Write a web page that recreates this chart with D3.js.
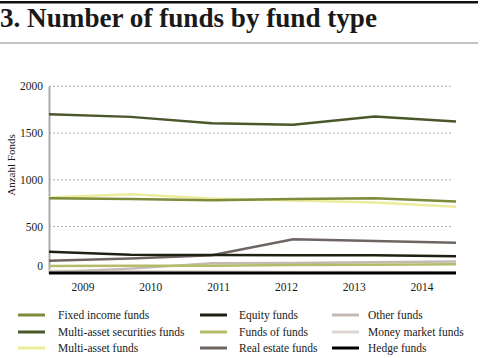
<!DOCTYPE html>
<html><head><meta charset="utf-8">
<script src="https://cdn.jsdelivr.net/npm/d3@7"></script>
<style>
body{margin:0;background:#fff;}
svg{display:block;}
text{font-family:"Liberation Serif","DejaVu Serif",serif;fill:#1a1a1a;}
</style></head>
<body><svg id="c" width="480" height="358"></svg>
<script>
const years = ["2009","2010","2011","2012","2013","2014"];
const yTicks = [0,500,1000,1500,2000];
const seriesNames = ["Fixed income funds","Multi-asset securities funds","Multi-asset funds","Equity funds","Funds of funds","Real estate funds","Other funds","Money market funds","Hedge funds"];
const seriesColors = ["#7d8b3b","#4a572b","#ecec9c","#1e2012","#b4bc6a","#6e6461","#c4bab4","#ddd7d4","#000000"];
const fixedIncome = [803,795,782,795,803,767];
const multiAssetSecurities = [1702,1673,1606,1588,1677,1623];
const multiAsset = [810,846,800,778,756,713];
const equity = [231,199,196,193,192,182];
const fundsOfFunds = [78,80,82,88,92,96];
const realEstate = [135,158,193,364,346,328];
const other = [12,50,107,110,118,125];
const moneyMarket = [28,22,18,15,13,12];
const hedge = [4,4,4,3,3,3];
const seriesValues = [fixedIncome,multiAssetSecurities,multiAsset,equity,fundsOfFunds,realEstate,other,moneyMarket,hedge];

const svg = d3.select("#c");
svg.append("rect").attr("x",0).attr("y",1).attr("width",478).attr("height",2.5).attr("fill","#111");
svg.append("text").attr("x",0).attr("y",27).attr("font-size",27).attr("font-weight","bold")
  .attr("textLength",377).attr("lengthAdjust","spacingAndGlyphs").text("3. Number of funds by fund type");
svg.append("rect").attr("x",0).attr("y",42.5).attr("width",478).attr("height",1).attr("fill","#888");

const x0 = 49, x1 = 456;
const y = d3.scaleLinear().domain([0,2000]).range([273.3,86.3]);
const xb = d3.scaleBand().domain(years).range([x0,x1]);
const xp = d3.scalePoint().domain(years).range([x0,x1]);

const grid = svg.append("g");
grid.selectAll("line").data(yTicks.filter(d=>d>0)).join("line")
  .attr("x1",x0).attr("x2",453).attr("y1",d=>y(d)).attr("y2",d=>y(d))
  .attr("stroke","#aaa").attr("stroke-width",1).attr("stroke-dasharray","2,2");

const ya = svg.append("g").attr("transform",`translate(${x0},0)`)
  .call(d3.axisLeft(y).tickValues(yTicks).tickFormat(d3.format("d")).tickSize(0).tickPadding(6))
  .attr("font-family","Liberation Serif, serif").attr("font-size",11.5);
ya.select(".domain").attr("stroke","#aaa").attr("stroke-width",2);
ya.selectAll("text").attr("fill","#1a1a1a").attr("dy",d=>d===0?"-0.3em":"0.32em");

svg.append("text").attr("transform","translate(15,165) rotate(-90)").attr("text-anchor","middle")
  .attr("font-size",11).text("Anzahl Fonds");

const line = d3.line().x((d,i)=>xp(years[i])).y(d=>y(d));
const order = [7,6,4,8,5,3,2,0,1];
svg.append("g").selectAll("path").data(order).join("path")
  .attr("d",i=>line(seriesValues[i])).attr("fill","none")
  .attr("stroke",i=>seriesColors[i]).attr("stroke-width",i=>i===8?3:2.5);

const xa = svg.append("g").attr("transform",`translate(0,${y(0)})`)
  .call(d3.axisBottom(xb).tickSize(0).tickPadding(10))
  .attr("font-family","Liberation Serif, serif").attr("font-size",11.5);
xa.select(".domain").remove();
xa.selectAll("text").attr("fill","#1a1a1a");

const cols = [[18,58],[200,239],[332,368]];
const rows = [315,332,348];
const lg = svg.append("g");
seriesNames.forEach((n,i)=>{
  const c = cols[Math.floor(i/3)], r = rows[i%3];
  lg.append("line").attr("x1",c[0]).attr("x2",c[0]+27).attr("y1",r).attr("y2",r)
    .attr("stroke",seriesColors[i]).attr("stroke-width",3);
  lg.append("text").attr("x",c[1]).attr("y",r).attr("dy","0.33em").attr("font-size",11.5).text(n);
});
</script></body></html>
